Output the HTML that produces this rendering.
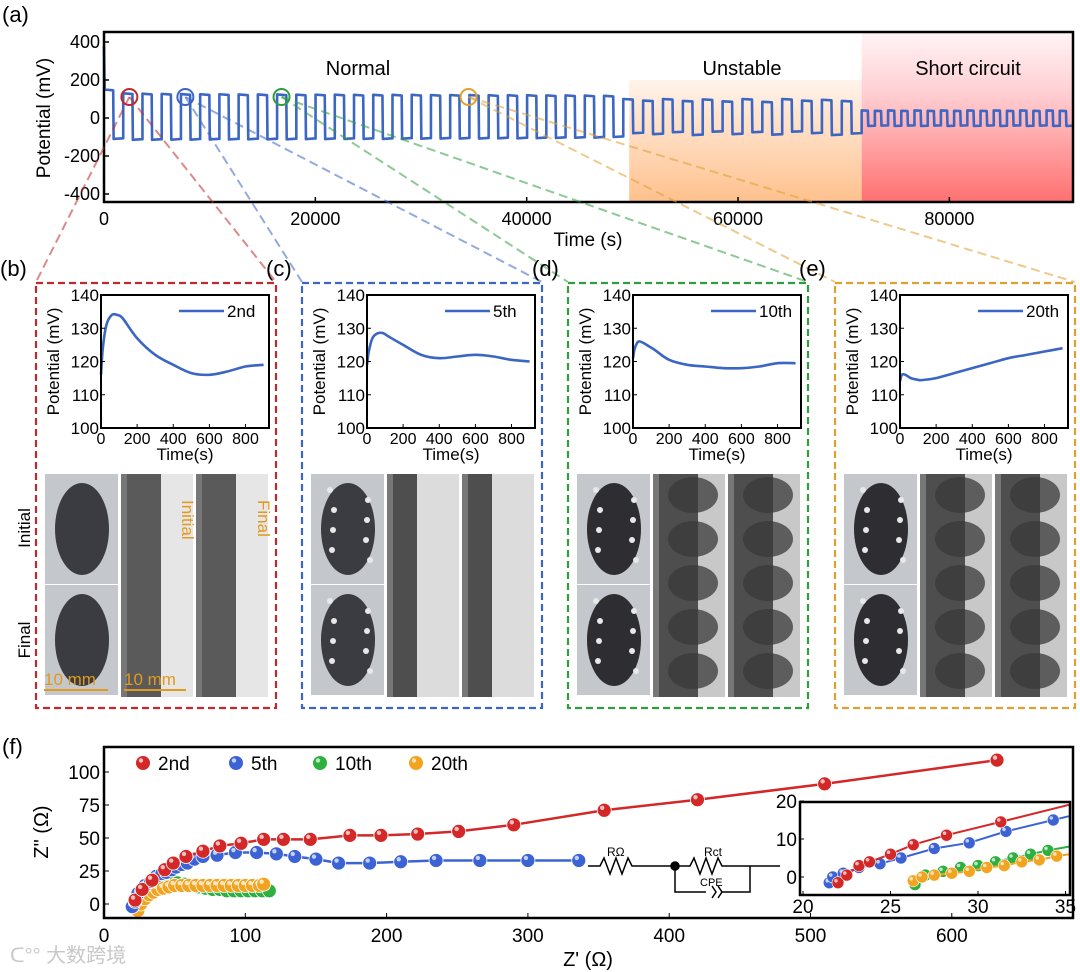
<!DOCTYPE html>
<html><head><meta charset="utf-8">
<style>
html,body{margin:0;padding:0;background:#fff;}
svg{display:block;font-family:"Liberation Sans","Noto Sans CJK SC",sans-serif;}
</style></head>
<body>
<svg id="fig" width="1080" height="972" viewBox="0 0 1080 972" xmlns="http://www.w3.org/2000/svg">
<defs>
<linearGradient id="gUn" x1="0" y1="0" x2="0" y2="1">
<stop offset="0" stop-color="#ffe6d6" stop-opacity="0.5"/><stop offset="0.3" stop-color="#ffdcc0" stop-opacity="0.8"/><stop offset="1" stop-color="#ffc08c"/></linearGradient>
<linearGradient id="gSc" x1="0" y1="0" x2="0" y2="1">
<stop offset="0" stop-color="#fff4f6"/><stop offset="0.35" stop-color="#ffd0d4"/><stop offset="1" stop-color="#ff7070"/></linearGradient>
</defs>
<g id="root"></g>
</svg>
<script>
// ---------- Panel (a) data ----------
const aCycleHigh=[150,130,128,127,126,125,125,124,124,124,123,123,123,122,122,122,122,121,121,121,120,120,120,119,119,118,117,
 100,92,100,90,98,88,100,85,100,92,96,90,
 40,38,40,38,40,38,40,38,40,38,40,38,40,38,40,38];
const aCycleLow=[-110,-115,-115,-114,-114,-113,-113,-112,-112,-112,-111,-111,-110,-110,-110,-109,-109,-108,-108,-108,-107,-107,-106,-105,-104,-103,-100,
 -80,-85,-75,-90,-72,-85,-75,-88,-72,-80,-90,-82,
 -42,-40,-42,-40,-42,-40,-42,-40,-42,-40,-42,-40,-42,-40,-42,-42];
const aCycleDur=[1820,1820,1820,1820,1820,1820,1820,1820,1820,1820,1820,1820,1820,1820,1820,1820,1820,1820,1820,1820,1820,1820,1820,1820,1820,1820,1820,
 1880,1880,1880,1880,1880,1880,1880,1880,1880,1880,1880,1880,
 1250,1250,1250,1250,1250,1250,1250,1250,1250,1250,1250,1250,1250,1250,1250,1250];
const aXTicks=[0,20000,40000,60000,80000];
const aYTicks=[400,200,0,-200,-400];
const aMarkTimes=[2400,7700,16800,34500];
const aRegionBounds=[49700,71700];
// ---------- Panels (b-e) data ----------
const insetNames=["2nd","5th","10th","20th"];
const insetT=[0,10,30,60,90,120,200,300,400,500,600,700,800,900];
const inset2nd=[116,124,131,134,134,133,127,122,119,116.5,116,117,118.5,119];
const inset5th=[119,123,127,128.5,128.5,127.5,125,122,121,121.5,122,121.5,120.5,120];
const inset10th=[121,124,126,125.5,124.5,123.5,120.5,119,118.5,118,118,118.5,119.5,119.5];
const inset20th=[114,116,116,115,114.6,114.4,115,116.5,118,119.5,121,122,123,124];
const insetYTicks=[100,110,120,130,140];
const insetXTicks=[0,200,400,600,800];
// ---------- Panel (f) data ----------
const fSeries=["2nd","5th","10th","20th"];
const f2ndX=[22,27,34,43,49,58,70,82,97,113,127,146,174,196,222,251,290,354,420,510,632];
const f2ndY=[3,11,18,26,31,36,40,44,46,49,49,49,52,52,53,55,60,71,79,91,109];
const f5thX=[20,22,24,27,29,33,37,41,44,48,51,55,59,64,70,80,93,108,122,135,150,166,188,210,235,266,300,336];
const f5thY=[-2,2,8,11,14,17,21,23,24,26,28,30,31,34,36,37,39,39,38,36,34,31,31,32,33,33,33,33];
const f10thX=[24,26,28,31,34,38,42,47,52,57,62,67,72,77,82,87,92,97,102,107,112,117];
const f10thY=[-3,3,7,10,13,15,16,16,16,15,14,13,12,11,11,10,10,10,10,10,10,10];
const f20thX=[24,26,29,32,35,38,42,46,50,55,60,65,70,75,80,85,90,95,100,105,110,113];
const f20thY=[-5,0,4,7,9,11,12,13,14,14,14,14,14,14,14,14,14,14,14,14,14,15];
const fXTicks=[0,100,200,300,400,500,600];
const fYTicks=[0,25,50,75,100];
const in2ndX=[22,22.5,23.2,23.8,25,26.3,28.2,31.3];
const in2ndY=[-1.5,0.5,3,4,6,8.5,11,14.5];
const in5thX=[21.5,21.7,22.3,23.2,24.4,25.6,27.5,29.5,31.6,34.3];
const in5thY=[-1.5,0,1,2.5,3.5,5,7.5,9,12,15];
const in10thX=[26.4,27,28,29,30,31,32,33,34];
const in10thY=[-2,0.5,1.5,2.5,3,4,5,6,7];
const in20thX=[26.3,26.8,27.5,28.5,29.5,30.5,31.5,32.5,33.5,34.5];
const in20thY=[-1,0,0.5,1,1.5,2.5,3,4,4.5,5.5];
const inXTicks=[20,25,30,35];
const inYTicks=[0,10,20];

const NS="http://www.w3.org/2000/svg";
const root=document.getElementById('root');
function mk(tag,attrs,parent,text){const e=document.createElementNS(NS,tag);for(const k in attrs)e.setAttribute(k,attrs[k]);if(text!==undefined)e.textContent=text;(parent||root).appendChild(e);return e;}
function smooth(pts){let d='M'+pts[0][0]+','+pts[0][1];for(let i=0;i<pts.length-1;i++){const p0=pts[Math.max(0,i-1)],p1=pts[i],p2=pts[i+1],p3=pts[Math.min(pts.length-1,i+2)];const c1=[p1[0]+(p2[0]-p0[0])/6,p1[1]+(p2[1]-p0[1])/6],c2=[p2[0]-(p3[0]-p1[0])/6,p2[1]-(p3[1]-p1[1])/6];d+=' C'+c1+' '+c2+' '+p2;}return d;}
const BLUE="#3b66c4";

// ===== Panel (a) =====
const A={l:104,r:1073,t:32,b:202};
const axT=t=>A.l+(t-0)*(A.r-A.l)/91700;
const ayV=v=>118-v*38/200;
let lbl=mk('text',{x:2,y:22,'font-size':22},root,'(a)');

let r1=mk('rect',{x:axT(aRegionBounds[0]),y:80,width:axT(aRegionBounds[1])-axT(aRegionBounds[0]),height:A.b-80,fill:'url(#gUn)'});

let r2=mk('rect',{x:axT(aRegionBounds[1]),y:A.t,width:A.r-axT(aRegionBounds[1]),height:A.b-A.t,fill:'url(#gSc)'});

[['Normal',358],['Unstable',742],['Short circuit',968]].forEach(([s,x])=>{const t=mk('text',{x:x,y:75,'font-size':20,'text-anchor':'middle'},root,s);});
let d='M'+axT(0)+','+ayV(380)+' L'+axT(60)+','+ayV(160);
let t0=0;
for(let i=0;i<aCycleHigh.length;i++){
 const P=aCycleDur[i],h=aCycleHigh[i],lo=aCycleLow[i];
 d+=' L'+axT(t0)+','+ayV(h)+' L'+axT(t0+P/2-40)+','+ayV(h*0.97)+' L'+axT(t0+P/2)+','+ayV(lo)+' L'+axT(t0+P-40)+','+ayV(lo*0.97)+' L'+axT(t0+P)+','+ayV(lo*0.97);
 t0+=P;
}
let wave=mk('path',{d:d,fill:'none',stroke:BLUE,'stroke-width':2.6,'stroke-linejoin':'round'});

let fa=mk('rect',{x:A.l,y:A.t,width:A.r-A.l,height:A.b-A.t,fill:'none',stroke:'#000','stroke-width':2.5});

aXTicks.forEach(v=>{mk('line',{x1:axT(v),x2:axT(v),y1:A.b,y2:A.b-5,stroke:'#000','stroke-width':1.5});const t=mk('text',{x:axT(v),y:225,'font-size':18,'text-anchor':'middle'},root,v);});
aYTicks.forEach(v=>{mk('line',{x1:A.l,x2:A.l+5,y1:ayV(v),y2:ayV(v),stroke:'#000','stroke-width':1.5});const t=mk('text',{x:A.l-4,y:ayV(v)+6,'font-size':18,'text-anchor':'end'},root,v);});
let at=mk('text',{x:588,y:246,'font-size':19,'text-anchor':'middle'},root,'Time (s)');
let ay=mk('text',{x:0,y:0,'font-size':19,'text-anchor':'middle',transform:'translate(50,118) rotate(-90)'},root,'Potential (mV)');

// ===== Panels b-e =====
const colors=['#c02a2e','#3b66c4','#2f9e3e','#e0a030'];
const panelL=[36,302,568,835];
const panelLbl=['(b)','(c)','(d)','(e)'];
const insetData=[inset2nd,inset5th,inset10th,inset20th];
aMarkTimes.forEach((tm,i)=>{
 const cx=axT(tm),cy=97,L=panelL[i],c=colors[i];
 [L,L+240].forEach(x2=>{const ln=mk('line',{x1:cx,y1:cy,x2:x2,y2:282,stroke:c,'stroke-width':2,'stroke-dasharray':'9,5',opacity:0.55});});
 const ci=mk('circle',{cx:cx,cy:cy,r:8,fill:'none',stroke:c,'stroke-width':2});
 
});
panelL.forEach((L,i)=>{
 const c=colors[i];
 const g=mk('g',{});
 
 mk('text',{x:L-36,y:276,'font-size':22},g,panelLbl[i]);
 mk('rect',{x:L,y:283,width:240,height:425,fill:'none',stroke:c,'stroke-width':2.2,'stroke-dasharray':'7,4'},g);
 const F={l:L+65,r:L+233,t:295,b:428};
 const xs=t=>F.l+t*(F.r-F.l)/930;
 const ys=v=>F.b-(v-100)*(F.b-F.t)/40;
 const vals=insetData[i];
 const pts=insetT.map((t,k)=>[xs(t),ys(vals[k])]);
 const cv=mk('path',{d:smooth(pts),fill:'none',stroke:BLUE,'stroke-width':2.6},g);
 
 mk('rect',{x:F.l,y:F.t,width:F.r-F.l,height:F.b-F.t,fill:'none',stroke:'#000','stroke-width':2},g);
 insetYTicks.forEach(v=>{mk('line',{x1:F.l,x2:F.l+4,y1:ys(v),y2:ys(v),stroke:'#000'},g);mk('text',{x:F.l-2,y:ys(v)+6,'font-size':17,'text-anchor':'end'},g,v);});
 insetXTicks.forEach(v=>{mk('line',{x1:xs(v),x2:xs(v),y1:F.b,y2:F.b-4,stroke:'#000'},g);mk('text',{x:xs(v),y:444,'font-size':16,'text-anchor':'middle'},g,v);});
 mk('text',{x:(F.l+F.r)/2,y:460,'font-size':17,'text-anchor':'middle'},g,'Time(s)');
 mk('text',{x:0,y:0,'font-size':17,'text-anchor':'middle',transform:`translate(${L+23},${(F.t+F.b)/2}) rotate(-90)`},g,'Potential (mV)');
 mk('line',{x1:F.r-90,x2:F.r-45,y1:311,y2:311,stroke:BLUE,'stroke-width':2.6},g);
 mk('text',{x:F.r-42,y:317,'font-size':17},g,insetNames[i]);
 const ph=mk('g',{},g);
 const dark=i>=2;
 [474,585].forEach((y0,k)=>{
   mk('rect',{x:L+9,y:y0,width:73,height:110,fill:'#c4c8cc'},ph);
   mk('ellipse',{cx:L+46,cy:y0+55,rx:27,ry:46,fill:dark?'#2e2e32':'#3a3c42'},ph);
   if(i>0){for(let j=0;j<8;j++){mk('circle',{cx:L+28+(j%2)*36+((j*7)%5),cy:y0+16+j*10,r:3,fill:'#e8e8e8'},ph);}}
 });
 [L+85,L+160].forEach((x0,k)=>{
   mk('rect',{x:x0,y:474,width:72,height:223,fill:i==0?'#e6e6e6':(i==1?'#dcdcdc':'#c8c8c8')},ph);
   mk('rect',{x:x0,y:474,width:i==0?40:(dark?45:30),height:223,fill:i==0?'#5a5a5a':'#4e4e4e'},ph);
   mk('rect',{x:x0,y:474,width:6,height:223,fill:'#777'},ph);
   if(dark||i==3){for(let j=0;j<5;j++)mk('ellipse',{cx:x0+40,cy:495+j*44,rx:25,ry:18,fill:'#3a3a3a',opacity:0.75},ph);}
 });
 if(i==0){
   mk('text',{x:0,y:0,'font-size':17,fill:'#e09a1e',transform:`translate(${L+146},500) rotate(90)`},g,'Initial');
   mk('text',{x:0,y:0,'font-size':17,fill:'#e09a1e',transform:`translate(${L+222},500) rotate(90)`},g,'Final');
   mk('text',{x:0,y:0,'font-size':17,'text-anchor':'middle',transform:`translate(${L-6},528) rotate(-90)`},g,'Initial');
   mk('text',{x:0,y:0,'font-size':17,'text-anchor':'middle',transform:`translate(${L-6},640) rotate(-90)`},g,'Final');
   mk('line',{x1:L+8,x2:L+72,y1:690,y2:690,stroke:'#e09a1e','stroke-width':2},g);
   mk('line',{x1:L+88,x2:L+150,y1:690,y2:690,stroke:'#e09a1e','stroke-width':2},g);
   mk('text',{x:L+8,y:685,'font-size':17,fill:'#e09a1e'},g,'10 mm');
   mk('text',{x:L+88,y:685,'font-size':17,fill:'#e09a1e'},g,'10 mm');
 }
});

// ===== Panel (f) =====
const Fm={l:104,r:1073,t:747,b:918};
const fx=v=>104+v*1.413;
const fy=v=>904-v*1.32;
let lf=mk('text',{x:2,y:754,'font-size':22},root,'(f)');
const fXs=[f2ndX,f5thX,f10thX,f20thX],fYs=[f2ndY,f5thY,f10thY,f20thY];
const mcol=['#d42828','#3c63d4','#2eb040','#f2a420'];
[2,3,1,0].forEach(i=>{
 const g=mk('g',{});
 let p='';fXs[i].forEach((x,k)=>{p+=(k?' L':'M')+fx(x)+','+fy(fYs[i][k]);});
 mk('path',{d:p,fill:'none',stroke:mcol[i],'stroke-width':2.5},g);
 fXs[i].forEach((x,k)=>{const c=mk('circle',{cx:fx(x),cy:fy(fYs[i][k]),r:7,fill:mcol[i],stroke:'#fff','stroke-width':0.8},g);mk('circle',{cx:fx(x)-2,cy:fy(fYs[i][k])-2.5,r:2.2,fill:'#fff',opacity:0.7},g);});
});
mk('rect',{x:Fm.l,y:Fm.t,width:Fm.r-Fm.l,height:Fm.b-Fm.t,fill:'none',stroke:'#000','stroke-width':2.5});
fXTicks.forEach(v=>{mk('line',{x1:fx(v),x2:fx(v),y1:Fm.b,y2:Fm.b-5,stroke:'#000'});const t=mk('text',{x:fx(v),y:942,'font-size':19,'text-anchor':'middle'},root,v);});
fYTicks.forEach(v=>{mk('line',{x1:Fm.l,x2:Fm.l+5,y1:fy(v),y2:fy(v),stroke:'#000'});const t=mk('text',{x:Fm.l-4,y:fy(v)+7,'font-size':19,'text-anchor':'end'},root,v);});
let fxt=mk('text',{x:588,y:966,'font-size':20,'text-anchor':'middle'},root,"Z' (Ω)");
let fyt=mk('text',{x:0,y:0,'font-size':20,'text-anchor':'middle',transform:'translate(48,832) rotate(-90)'},root,'Z" (Ω)');
[[143,'2nd'],[236,'5th'],[320,'10th'],[416,'20th']].forEach(([x,s],i)=>{
 const g=mk('g',{});
 mk('circle',{cx:x,cy:763,r:7,fill:mcol[i]},g);mk('circle',{cx:x-2,cy:760.5,r:2.2,fill:'#fff',opacity:0.7},g);
 mk('text',{x:x+15,y:770,'font-size':19},g,s);
});
const cg=mk('g',{fill:'none',stroke:'#000','stroke-width':1.5});
mk('path',{d:'M588,866 L600,866 L604,858 L610,874 L616,858 L622,874 L628,858 L632,866 L675,866 L690,866 L694,858 L700,874 L706,858 L712,874 L718,858 L722,866 L780,866 M675,866 L675,892 L706,892 M712,886 L716,892 L712,898 M718,886 L722,892 L718,898 M722,892 L750,892 L750,866'},cg);
mk('circle',{cx:675,cy:866,r:4,fill:'#000'},cg);
mk('text',{x:607,y:856,'font-size':12,'stroke':'none',fill:'#000'},root,'RΩ');
mk('text',{x:704,y:856,'font-size':12,'stroke':'none',fill:'#000'},root,'Rct');
mk('text',{x:700,y:886,'font-size':11,'stroke':'none',fill:'#000'},root,'CPE');
const I={l:800,r:1070,t:802,b:895};
const ix=v=>803+(v-20)*17.5;
const iy=v=>877-v*3.8;
mk('rect',{x:I.l,y:I.t,width:I.r-I.l,height:I.b-I.t,fill:'#fff'});
const inXs=[in2ndX,in5thX,in10thX,in20thX],inYs=[in2ndY,in5thY,in10thY,in20thY];
const inEnd=[19,16,8,6];
const cp=mk('clipPath',{id:'ic'});mk('rect',{x:I.l,y:I.t,width:I.r-I.l,height:I.b-I.t},cp);
[2,3,1,0].forEach(i=>{
 const g=mk('g',{'clip-path':'url(#ic)'});
 let p='';inXs[i].forEach((x,k)=>{p+=(k?' L':'M')+ix(x)+','+iy(inYs[i][k]);});p+=' L'+ix(35.2)+','+iy(inEnd[i]);
 mk('path',{d:p,fill:'none',stroke:mcol[i],'stroke-width':2},g);
 inXs[i].forEach((x,k)=>{mk('circle',{cx:ix(x),cy:iy(inYs[i][k]),r:6,fill:mcol[i],stroke:'#fff','stroke-width':0.6},g);mk('circle',{cx:ix(x)-2,cy:iy(inYs[i][k])-2,r:1.8,fill:'#fff',opacity:0.7},g);});
});
let ifr=mk('rect',{x:I.l,y:I.t,width:I.r-I.l,height:I.b-I.t,fill:'none',stroke:'#000','stroke-width':2.5});
inXTicks.forEach(v=>{mk('line',{x1:ix(v),x2:ix(v),y1:I.b,y2:I.b-4,stroke:'#000'});mk('text',{x:ix(v),y:913,'font-size':19,'text-anchor':'middle'},root,v);});
inYTicks.forEach(v=>{mk('line',{x1:I.l,x2:I.l+4,y1:iy(v),y2:iy(v),stroke:'#000'});mk('text',{x:I.l-3,y:iy(v)+7,'font-size':19,'text-anchor':'end'},root,v);});
let wm=mk('text',{x:10,y:962,'font-size':20,fill:'#c8c8c8'},root,'ᑕ°° 大数跨境');
</script>
</body></html>
